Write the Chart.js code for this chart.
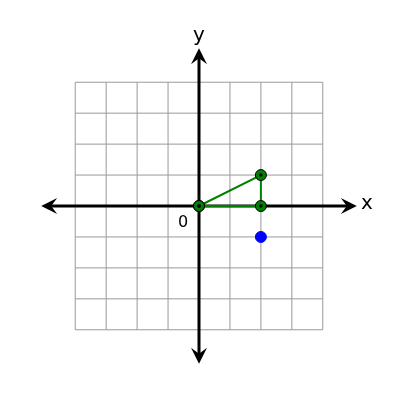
<!DOCTYPE html>
<html>
<head>
<script src="https://cdn.jsdelivr.net/npm/chart.js@4"></script>
<style>body{margin:0;background:#fff}#c{width:400px;height:400px}</style>
</head>
<body>
<div id="c"><canvas id="chart"></canvas></div>
<script>
const gridMin = -4, gridMax = 4;
const axisExtent = 5.1;
const trianglePoints = [{x: 0, y: 0}, {x: 2, y: 1}, {x: 2, y: 0}, {x: 0, y: 0}];
const bluePoints = [{x: 2, y: -1}];

const gridPlugin = {
  id: "grid",
  beforeDatasetsDraw(chart) {
    const {ctx, scales: {x, y}} = chart;
    ctx.save();
    ctx.strokeStyle = "#999";
    ctx.lineWidth = 1;
    for (let v = gridMin; v <= gridMax; v++) {
      ctx.beginPath();
      ctx.moveTo(x.getPixelForValue(v), y.getPixelForValue(gridMin));
      ctx.lineTo(x.getPixelForValue(v), y.getPixelForValue(gridMax));
      ctx.moveTo(x.getPixelForValue(gridMin), y.getPixelForValue(v));
      ctx.lineTo(x.getPixelForValue(gridMax), y.getPixelForValue(v));
      ctx.stroke();
    }
    const ox = x.getPixelForValue(0), oy = y.getPixelForValue(0);
    const l = x.getPixelForValue(-axisExtent), r = x.getPixelForValue(axisExtent);
    const t = y.getPixelForValue(axisExtent), b = y.getPixelForValue(-axisExtent);
    ctx.strokeStyle = "#000";
    ctx.fillStyle = "#000";
    ctx.lineWidth = 3;
    ctx.beginPath();
    ctx.moveTo(l + 8, oy); ctx.lineTo(r - 8, oy);
    ctx.moveTo(ox, t + 8); ctx.lineTo(ox, b - 8);
    ctx.stroke();
    const arrow = (px, py, dx, dy) => {
      ctx.beginPath();
      ctx.moveTo(px, py);
      ctx.lineTo(px - dx * 16 - dy * 8, py - dy * 16 - dx * 8);
      ctx.lineTo(px - dx * 10, py - dy * 10);
      ctx.lineTo(px - dx * 16 + dy * 8, py - dy * 16 + dx * 8);
      ctx.closePath();
      ctx.fill();
    };
    arrow(r, oy, 1, 0); arrow(l, oy, -1, 0);
    arrow(ox, t, 0, -1); arrow(ox, b, 0, 1);
    ctx.font = "20px 'DejaVu Sans'";
    ctx.textAlign = "center";
    ctx.textBaseline = "middle";
    ctx.fillText("x", r + 10, oy - 2);
    ctx.fillText("y", ox, t - 12);
    ctx.font = "16px 'DejaVu Sans'";
    ctx.fillText("0", ox - 16, oy + 17);
    ctx.restore();
  },
  afterDatasetsDraw(chart) {
    const {ctx, scales: {x, y}} = chart;
    ctx.save();
    ctx.fillStyle = "#000";
    trianglePoints.forEach(p => {
      ctx.beginPath();
      ctx.arc(x.getPixelForValue(p.x), y.getPixelForValue(p.y), 1.8, 0, Math.PI * 2);
      ctx.fill();
    });
    ctx.restore();
  }
};

new Chart(document.getElementById("chart"), {
  type: "scatter",
  data: {
    datasets: [
      {
        data: trianglePoints,
        showLine: true,
        borderColor: "green",
        borderWidth: 2,
        backgroundColor: "green",
        pointBackgroundColor: "green",
        pointBorderColor: "#000",
        pointBorderWidth: 1,
        pointRadius: 5.5
      },
      {
        data: bluePoints,
        backgroundColor: "blue",
        borderColor: "blue",
        pointRadius: 5.5
      }
    ]
  },
  options: {
    responsive: true,
    maintainAspectRatio: false,
    animation: false,
    layout: {padding: {left: 35, right: 37, top: 42, bottom: 30}},
    plugins: {legend: {display: false}, tooltip: {enabled: false}},
    scales: {
      x: {min: -5.3, max: 5.3, display: false},
      y: {min: -5.3, max: 5.3, display: false}
    }
  },
  plugins: [gridPlugin]
});
</script>
</body>
</html>
